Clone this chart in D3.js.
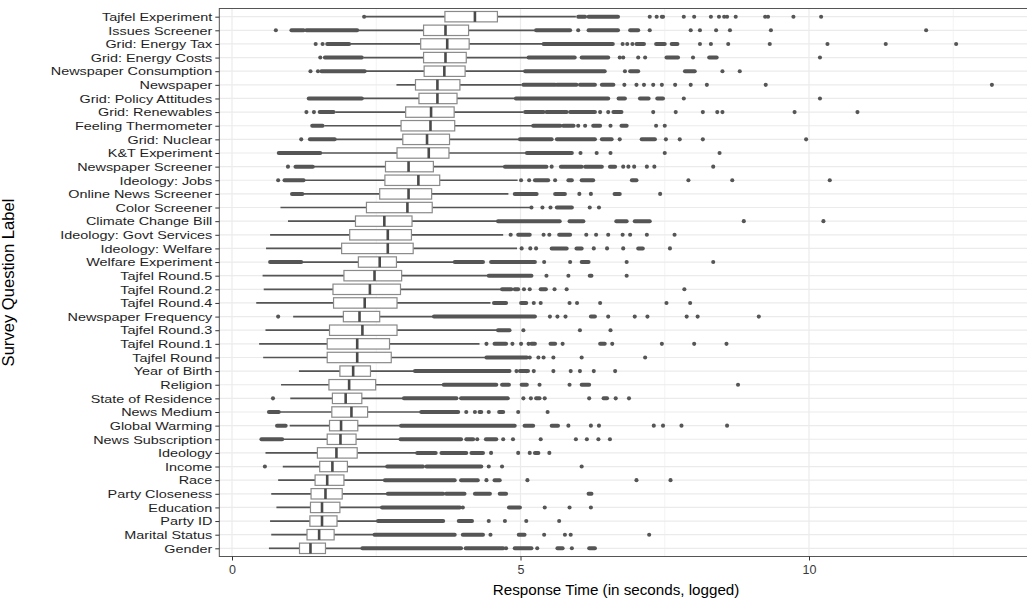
<!DOCTYPE html>
<html>
<head>
<meta charset="utf-8">
<script src="https://cdn.jsdelivr.net/npm/d3@7"></script>
<style>
  html, body { margin: 0; padding: 0; background: #fff; }
  svg { display: block; font-family: "Liberation Sans", Arial, sans-serif; }
</style>
</head>
<body>
<svg id="chart" width="1027" height="603"></svg>
<script>
const categories = [
  "Tajfel Experiment","Issues Screener","Grid: Energy Tax","Grid: Energy Costs","Newspaper Consumption",
  "Newspaper","Grid: Policy Attitudes","Grid: Renewables","Feeling Thermometer","Grid: Nuclear",
  "K&T Experiment","Newspaper Screener","Ideology: Jobs","Online News Screener","Color Screener",
  "Climate Change Bill","Ideology: Govt Services","Ideology: Welfare","Welfare Experiment","Tajfel Round.5",
  "Tajfel Round.2","Tajfel Round.4","Newspaper Frequency","Tajfel Round.3","Tajfel Round.1",
  "Tajfel Round","Year of Birth","Religion","State of Residence","News Medium",
  "Global Warming","News Subscription","Ideology","Income","Race",
  "Party Closeness","Education","Party ID","Marital Status","Gender"
];

const whiskerLow = [2.32,2.20,2.06,2.28,2.32, 2.85,2.27,1.79,1.60,1.80, 1.55,1.42,1.26,1.24,0.84, 0.97,0.66,0.59,1.22,0.53,
  0.55,0.42,1.06,0.58,0.47, 0.54,1.16,0.85,1.01,0.81, 1.00,0.87,0.58,0.88,0.80, 0.68,0.77,0.66,0.68,0.64];
const q1 = [3.69,3.32,3.27,3.32,3.33, 3.18,3.24,3.01,2.93,2.96, 2.86,2.66,2.65,2.56,2.33, 2.14,2.04,1.90,2.19,1.94,
  1.75,1.76,1.93,1.69,1.65, 1.65,1.87,1.68,1.74,1.73, 1.69,1.65,1.48,1.52,1.44, 1.37,1.36,1.35,1.30,1.17];
const medians = [4.21,3.70,3.73,3.70,3.68, 3.56,3.56,3.45,3.44,3.38, 3.41,3.06,3.23,3.06,3.04, 2.64,2.70,2.70,2.56,2.47,
  2.39,2.30,2.21,2.26,2.17, 2.17,2.10,2.03,1.97,2.07, 1.89,1.88,1.81,1.74,1.65, 1.62,1.56,1.56,1.51,1.36];
const q3 = [4.60,4.10,4.11,4.06,4.04, 3.95,3.90,3.85,3.86,3.77, 3.76,3.49,3.60,3.46,3.47, 3.12,3.11,3.14,2.85,2.94,
  2.92,2.86,2.56,2.86,2.73, 2.76,2.40,2.49,2.25,2.35, 2.18,2.15,2.17,2.00,1.94, 1.91,1.87,1.82,1.77,1.62];
const whiskerHigh = [5.96,5.25,5.38,5.12,5.07, 5.02,4.90,5.05,5.20,4.97, 5.10,4.72,4.95,4.79,5.17, 4.61,4.70,4.94,3.86,4.45,
  4.68,4.48,3.50,4.61,4.29, 4.41,3.17,3.67,2.98,3.28, 2.93,2.92,3.21,2.69,2.65, 2.70,2.60,2.53,2.47,2.26];

// individual outlier points
const outlierPoints = [
  [2.29,7.24,7.36,7.45,7.47,7.83,8.01,8.30,8.44,8.53,8.58,8.73,9.24,9.29,9.73,10.21],
  [0.76,6.00,7.24,7.95,8.11,8.39,8.63,9.34,12.03],
  [1.45,1.57,6.77,6.85,6.94,8.11,8.30,8.60,9.32,10.32,11.33,12.55],
  [1.53,6.72,6.78,7.04,7.16,7.99,10.19],
  [1.36,1.49,6.81,8.50,8.80],
  [6.80,7.01,7.14,7.30,7.45,7.68,7.95,8.23,9.25,13.17],
  [7.83,10.19],
  [1.29,1.42,6.38,6.52,7.30,7.69,8.16,8.41,8.50,9.75,10.84],
  [6.00,6.12,6.56,7.35,7.50],
  [1.20,6.72,7.52,7.76,8.16,9.95],
  [6.04,6.32,6.56,7.50,8.45],
  [0.97,5.54,6.78,6.87,6.97,7.19,7.32,8.34],
  [0.80,5.01,5.15,5.60,7.91,8.67,10.36],
  [6.02,6.22,7.42],
  [5.19,5.38,5.52,6.20,6.36],
  [8.87,10.25],
  [4.83,5.40,5.50,6.14,6.31,6.52,6.77,6.90,7.19,7.67],
  [5.02,5.17,5.27,6.27,6.50,6.78,7.59],
  [5.41,5.86,6.84,8.34],
  [5.45,5.83,6.84],
  [5.06,5.16,5.59,5.80,7.84],
  [5.23,5.35,5.85,5.98,6.38,7.53,7.94],
  [0.80,5.51,5.64,5.78,6.52,6.98,7.20,7.88,8.07,9.13],
  [5.05,6.03,6.56],
  [4.41,4.86,5.01,5.14,5.73,6.59,7.45,8.01,8.57],
  [5.16,5.31,5.40,5.57,6.06,7.16],
  [4.93,5.10,5.23,5.57,5.87,6.03,6.27,6.64],
  [5.33,5.85,8.77],
  [0.71,5.05,5.18,5.42,6.19,6.65,6.88],
  [4.06,4.21,4.45,4.96,5.47],
  [5.83,6.22,6.36,7.31,7.47,7.79,8.58],
  [4.25,4.70,4.87,5.35,5.96,6.15,6.35,6.55],
  [4.49,4.96,5.16,5.50],
  [0.57,4.45,4.68,6.06],
  [4.41,5.12,7.01,7.60],
  [],
  [4.00,5.42,5.85,6.22],
  [4.45,4.73,5.10,5.67],
  [4.48,5.41,5.77,5.87,7.23],
  [4.75,5.29,5.89]
];

// runs of densely overlapping outlier points [from, to]
const outlierRuns = [
  [[6.00,6.12],[6.18,6.69]],
  [[1.03,1.24],[1.29,2.17],[5.27,5.86],[6.18,6.69],[6.90,7.04]],
  [[1.65,2.03],[5.40,6.60],[7.01,7.14],[7.35,7.50],[7.62,7.72]],
  [[1.61,2.25],[5.14,5.94],[6.06,6.52],[7.53,7.73],[8.27,8.40]],
  [[1.55,2.30],[5.08,6.46],[6.90,7.04],[7.85,8.02]],
  [[5.05,5.60],[5.63,5.97],[6.03,6.29],[6.41,6.61]],
  [[1.33,2.25],[4.92,6.52],[6.70,6.81],[7.07,7.22],[7.37,7.47]],
  [[1.52,1.76],[5.08,5.40],[5.45,5.80],[5.86,6.29],[6.61,6.75]],
  [[1.39,1.57],[5.22,5.69],[5.74,5.92],[6.26,6.38],[6.75,6.84]],
  [[1.35,1.78],[4.99,5.54],[5.63,6.29],[6.41,6.58],[7.10,7.33]],
  [[0.81,1.53],[5.11,5.89]],
  [[1.10,1.40],[4.73,5.45],[5.70,6.06],[6.12,6.41],[6.55,6.64]],
  [[0.91,1.24],[5.25,5.48],[5.83,5.89],[6.06,6.26],[6.93,7.01]],
  [[1.04,1.22],[4.90,5.28],[5.60,5.77],[6.63,6.72]],
  [[5.63,5.89]],
  [[4.61,5.68],[5.85,6.09],[6.66,6.84],[6.98,7.24]],
  [[4.96,5.16],[5.67,5.86]],
  [[5.54,5.80],[5.97,6.06],[7.04,7.12]],
  [[0.66,1.20],[3.86,4.35],[4.49,5.25],[6.06,6.18]],
  [[4.45,5.19],[6.20,6.23]],
  [[4.68,4.84],[4.90,4.96],[5.35,5.44]],
  [[4.54,4.75],[5.01,5.10]],
  [[3.50,5.25],[6.22,6.29]],
  [[4.61,4.81]],
  [[4.55,4.75],[5.19,5.25],[5.52,5.60],[6.38,6.46]],
  [[4.41,5.11]],
  [[3.17,4.81],[4.99,5.13]],
  [[3.67,4.58],[4.68,4.80],[5.02,5.11],[6.06,6.19]],
  [[2.98,3.89],[3.97,4.78],[5.27,5.33],[6.44,6.50]],
  [[0.64,0.81],[3.28,3.92],[4.29,4.32],[4.63,4.70]],
  [[0.78,0.93],[2.93,4.90],[5.07,5.22],[5.54,5.65]],
  [[0.51,0.87],[2.92,3.97],[4.06,4.18],[4.40,4.58]],
  [[3.21,3.53],[3.63,4.06],[4.15,4.35],[5.25,5.31]],
  [[2.69,3.31],[3.37,4.32]],
  [[2.65,3.86],[3.97,4.26],[4.55,4.64]],
  [[2.70,3.66],[3.71,4.03],[4.21,4.47],[4.64,4.75],[6.18,6.23]],
  [[2.60,3.95],[4.80,4.99]],
  [[2.53,3.66],[3.93,4.16]],
  [[2.47,3.86],[4.00,4.35],[4.97,5.07]],
  [[2.26,3.97],[4.05,4.70],[4.90,5.19],[5.64,5.73],[6.19,6.29]]
];

const xMajorTicks = [0, 5, 10];
const xMinorTicks = [2.5, 7.5, 12.5];
const xTitle = "Response Time (in seconds, logged)";
const yTitle = "Survey Question Label";

const svg = d3.select("#chart");
const xDomain = [-0.22, 13.81];
const panel = { top: 8.5, bottom: 556.5 };

const x = d3.scaleLinear().domain(xDomain).range([232 + xDomain[0] * 57.7, 232 + xDomain[1] * 57.7]);
panel.left = x(xDomain[0]);
panel.right = x(xDomain[1]);
const y = d3.scalePoint().domain(categories).range([panel.top, panel.bottom]).padding(0.6);

const rows = categories.map((c, i) => ({
  cat: c, lo: whiskerLow[i], q1: q1[i], med: medians[i], q3: q3[i], hi: whiskerHigh[i],
  pts: outlierPoints[i], runs: outlierRuns[i]
}));

const grid = svg.append("g");
grid.selectAll(".minor").data(xMinorTicks).join("line")
  .attr("x1", d => x(d)).attr("x2", d => x(d))
  .attr("y1", panel.top).attr("y2", panel.bottom)
  .attr("stroke", "#ebebeb").attr("stroke-width", 0.6);
grid.selectAll(".major").data(xMajorTicks).join("line")
  .attr("x1", d => x(d)).attr("x2", d => x(d))
  .attr("y1", panel.top).attr("y2", panel.bottom)
  .attr("stroke", "#ebebeb").attr("stroke-width", 1.2);
grid.selectAll(".hmajor").data(categories).join("line")
  .attr("x1", panel.left).attr("x2", panel.right)
  .attr("y1", d => y(d)).attr("y2", d => y(d))
  .attr("stroke", "#ebebeb").attr("stroke-width", 1.2);

const markColor = "#555555";
const boxH = 10.4;

const g = svg.append("g").selectAll("g").data(rows).join("g")
  .attr("transform", d => `translate(0,${y(d.cat)})`);

// whiskers
g.append("line").attr("x1", d => x(d.lo)).attr("x2", d => x(d.q1))
  .attr("stroke", markColor).attr("stroke-width", 1.7);
g.append("line").attr("x1", d => x(d.q3)).attr("x2", d => x(d.hi))
  .attr("stroke", markColor).attr("stroke-width", 1.7);

// outlier runs
g.selectAll(".run").data(d => d.runs).join("line")
  .attr("x1", d => x(d[0])).attr("x2", d => x(d[1]))
  .attr("stroke", markColor).attr("stroke-width", 4).attr("stroke-linecap", "round");
// outlier points
g.selectAll(".pt").data(d => d.pts).join("circle")
  .attr("cx", d => x(d)).attr("cy", 0).attr("r", 2.05).attr("fill", markColor);

// boxes
g.append("rect")
  .attr("x", d => x(d.q1)).attr("y", -boxH / 2)
  .attr("width", d => x(d.q3) - x(d.q1)).attr("height", boxH)
  .attr("fill", "#fff").attr("stroke", "#8a8a8a").attr("stroke-width", 1.2);
g.append("line")
  .attr("x1", d => x(d.med)).attr("x2", d => x(d.med))
  .attr("y1", -boxH / 2).attr("y2", boxH / 2)
  .attr("stroke", "#4a4a4a").attr("stroke-width", 2.6);

// panel border
svg.append("rect").attr("x", panel.left).attr("y", panel.top)
  .attr("width", panel.right - panel.left).attr("height", panel.bottom - panel.top)
  .attr("fill", "none").attr("stroke", "#555").attr("stroke-width", 1);

// axes
const xAxis = d3.axisBottom(x).tickValues(xMajorTicks).tickFormat(d3.format("d")).tickSize(4).tickPadding(5);
const xg = svg.append("g").attr("transform", `translate(0,${panel.bottom})`).call(xAxis);
xg.select(".domain").remove();
xg.selectAll(".tick line").attr("stroke", "#333").attr("stroke-width", 1);
xg.selectAll(".tick text").attr("fill", "#3a3a3a").attr("font-size", 12.5)
  .attr("font-family", "Liberation Sans, Arial, sans-serif");

const yAxis = d3.axisLeft(y).tickSize(4).tickPadding(3);
const yg = svg.append("g").attr("transform", `translate(${panel.left},0)`).call(yAxis);
yg.select(".domain").remove();
yg.selectAll(".tick line").attr("stroke", "#333").attr("stroke-width", 1);
const labelStretch = 1.22;
yg.selectAll(".tick text").attr("fill", "#1e1e1e").attr("font-size", 11.8)
  .attr("font-family", "Liberation Sans, Arial, sans-serif")
  .attr("x", -7 / labelStretch)
  .attr("transform", `scale(${labelStretch},1)`);

svg.append("text").attr("x", 232 + 6.9 * 57.7 - 14).attr("y", 595)
  .attr("text-anchor", "middle").attr("font-size", 15.2).attr("fill", "#000").text(xTitle);
svg.append("text").attr("transform", `translate(14,${(panel.top + panel.bottom) / 2}) rotate(-90)`)
  .attr("text-anchor", "middle").attr("font-size", 16.6).attr("fill", "#000").text(yTitle);
</script>
</body>
</html>
